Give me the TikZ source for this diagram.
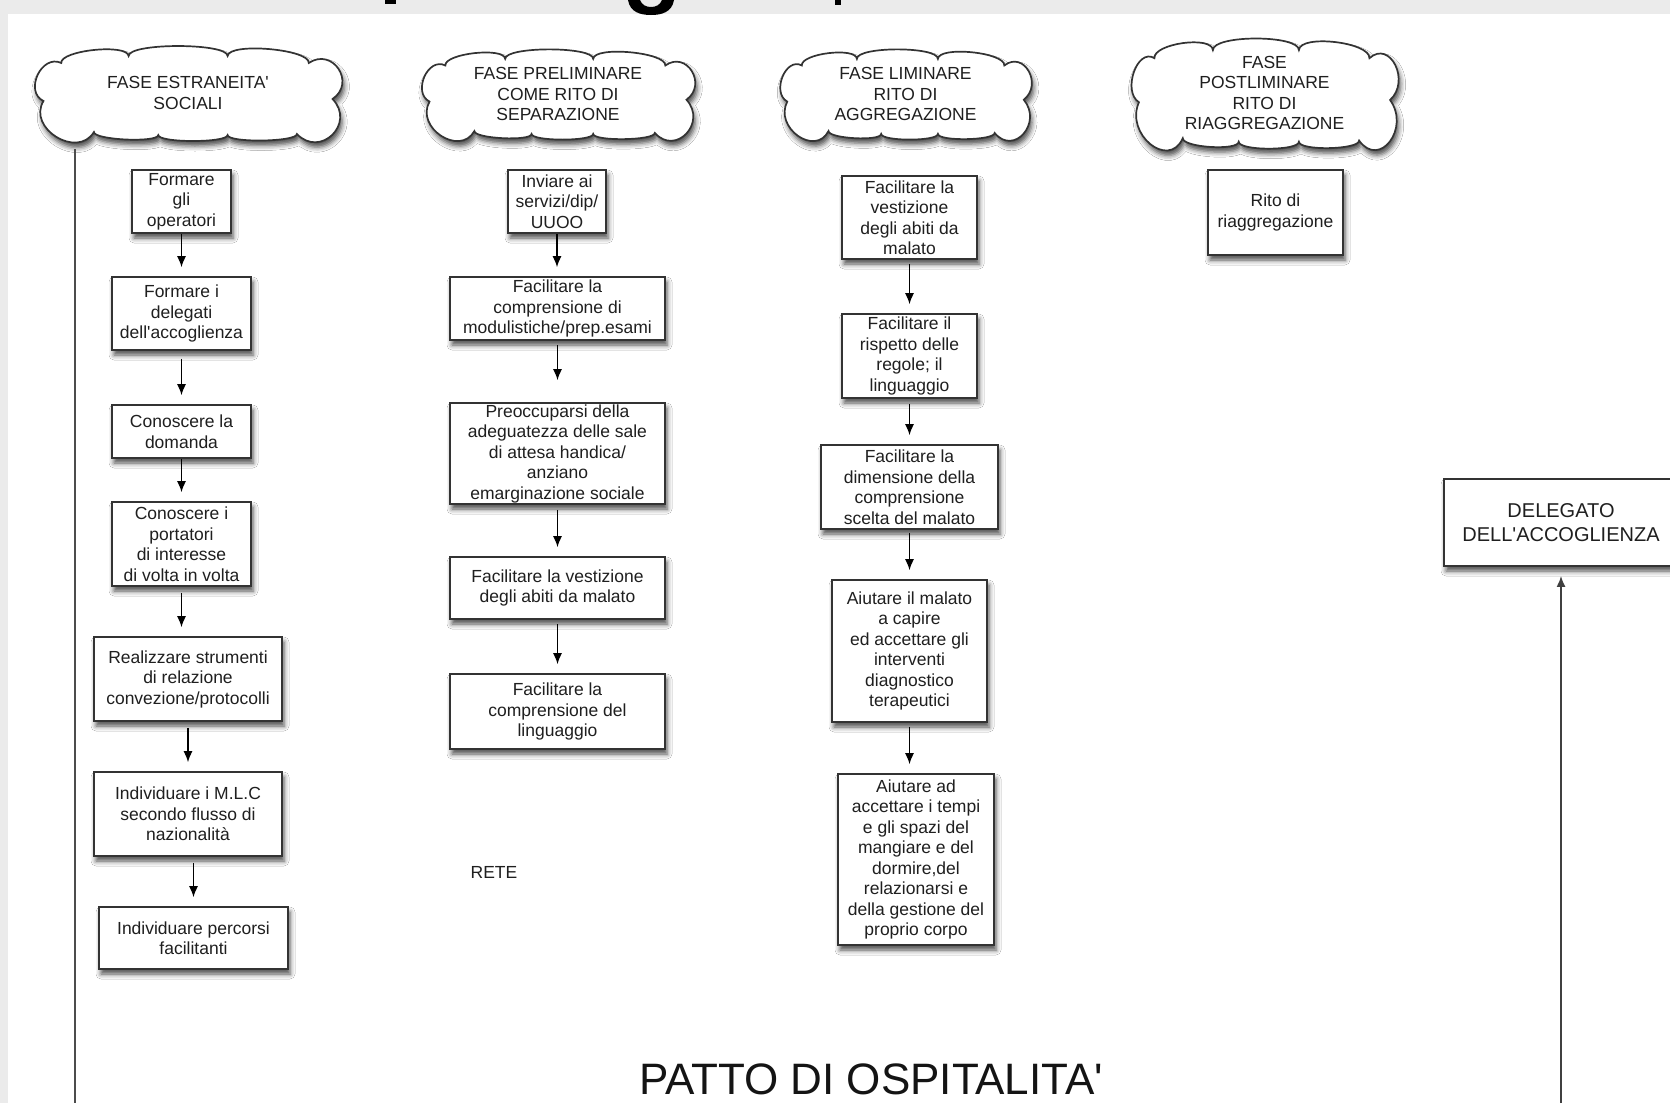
\documentclass[tikz,border=0pt]{standalone}
\usepackage{fontspec}
\newfontfamily\lsans{Liberation Sans}
\usetikzlibrary{arrows.meta,shadows.blur}

% outline of a phase cloud, 300 x 90 around the origin (y grows downwards)
\newcommand\cloudoutline{(-146,8)
  .. controls (-165.9,-1.4) and (-147.9,-39.4) .. (-128,-30)
  .. controls (-129.3,-42.7) and (-61.3,-49.7) .. (-60,-37)
  .. controls (-60,-50.3) and (40,-50.3) .. (40,-37)
  .. controls (41.2,-50.9) and (123.2,-43.9) .. (122,-30)
  .. controls (146.1,-46.1) and (170.1,-10.1) .. (146,6)
  .. controls (169.7,30.4) and (133.7,65.4) .. (110,41)
  .. controls (110.1,49) and (40.1,50) .. (40,42)
  .. controls (40,50) and (-30,50) .. (-30,42)
  .. controls (-30.4,50) and (-95.4,47) .. (-95,39)
  .. controls (-111.6,66.3) and (-162.6,35.3) .. (-146,8) -- cycle}

\begin{document}
\begin{tikzpicture}[x=1pt,y=-1pt,
  every node/.style={font=\lsans\fontsize{17.5}{20.5}\selectfont, text=black!88, align=center},
  softshadow/.style={blur shadow={shadow xshift=2pt, shadow yshift=-5pt,
      shadow blur radius=5pt, shadow opacity=70}},
  proc/.style={draw=black!80, line width=1.7pt, fill=white, inner sep=0pt, softshadow},
  cloudline/.style={draw=black!80, line width=1.7pt, fill=white, softshadow},
  arr/.style={draw=black, line width=1.3pt, -{Latex[length=11pt,width=9pt]}, shorten >=9pt},
]
\useasboundingbox (0,0) rectangle (1670,1103);
\clip (0,0) rectangle (1670,1103);

% page background and white sheet
\fill[black!8] (0,0) rectangle (1670,1103);
\fill[white] (8,14) rectangle (1672,1105);

% remains of the heading cut off at the top edge
\fill[black] (385,0) rectangle (396,4);
\fill[black] (628,0) .. controls (630,12) and (640,15) .. (651,15)
  .. controls (662,15) and (672,12) .. (674,0) -- (662,0)
  .. controls (660,5) and (656,7) .. (651,7)
  .. controls (646,7) and (642,5) .. (640,0) -- cycle;
\fill[black] (835,0) rectangle (841,5);

% phase clouds
\coordinate (p1) at (188,93);
\coordinate (p2) at (558,94);
\coordinate (p3) at (905.5,94);
\coordinate (p4) at (1264.5,93);
\begin{scope}[shift={(p1)}, xscale=0.99]
  \path[cloudline] \cloudoutline;
\end{scope}
\begin{scope}[shift={(p2)}, xscale=0.88, yscale=0.95]
  \path[cloudline] \cloudoutline;
\end{scope}
\begin{scope}[shift={(p3)}, xscale=0.81, yscale=0.95]
  \path[cloudline] \cloudoutline;
\end{scope}
\begin{scope}[shift={(p4)}, xscale=0.86, yscale=1.16]
  \path[cloudline] \cloudoutline;
\end{scope}
\node (k1) at (p1) {FASE ESTRANEITA'\\SOCIALI};
\node (k2) at (p2) {FASE PRELIMINARE\\COME RITO DI\\SEPARAZIONE};
\node (k3) at (p3) {FASE LIMINARE\\RITO DI\\AGGREGAZIONE};
\node (k4) at (p4) {FASE\\POSTLIMINARE\\RITO DI\\RIAGGREGAZIONE};

% left guide line
\coordinate (lt) at (75,149);
\coordinate (lb) at (75,1103);
\draw[black!70, line width=2pt] (lt) -- (lb);

% column 1
\node[proc, minimum width=99pt,  minimum height=63pt] (b1) at (181.5,201.5) {Formare\\gli\\operatori};
\node[proc, minimum width=139pt, minimum height=73pt] (b2) at (181.5,313.5) {Formare i\\delegati\\dell'accoglienza};
\node[proc, minimum width=139pt, minimum height=53pt] (b3) at (181.5,431.5) {Conoscere la\\domanda};
\node[proc, minimum width=139pt, minimum height=84pt] (b4) at (181.5,544) {Conoscere i\\portatori\\di interesse\\di volta in volta};
\node[proc, minimum width=188pt, minimum height=84pt] (b5) at (188,679) {Realizzare strumenti\\di relazione\\convezione/protocolli};
\node[proc, minimum width=188pt, minimum height=84pt] (b6) at (188,814) {Individuare i M.L.C\\secondo flusso di\\nazionalità};
\node[proc, minimum width=189pt, minimum height=62pt] (b7) at (193.5,938) {Individuare percorsi\\facilitanti};

\draw[arr] (b1.south) -- (b2.north);
\draw[arr, shorten <=8pt] (b2.south) -- (b3.north);
\draw[arr] (b3.south) -- (b4.north);
\draw[arr, shorten <=6pt] (b4.south) -- (b4.south |- b5.north);
\draw[arr, shorten <=6pt] (b5.south) -- (b6.north);
\draw[arr, shorten <=6pt] (b7.north |- b6.south) -- (b7.north);

% column 2
\node[proc, minimum width=98pt,  minimum height=63pt] (c1) at (557,201.5) {Inviare ai\\servizi/dip/\\UUOO};
\node[proc, minimum width=215pt, minimum height=63pt] (c2) at (557.5,308.5) {Facilitare la\\comprensione di\\modulistiche/prep.esami};
\node[proc, minimum width=215pt, minimum height=101pt] (c3) at (557.5,453.5) {Preoccuparsi della\\adeguatezza delle sale\\di attesa handica/\\anziano\\emarginazione sociale};
\node[proc, minimum width=215pt, minimum height=62pt] (c4) at (557.5,588) {Facilitare la vestizione\\degli abiti da malato};
\node[proc, minimum width=215pt, minimum height=75pt] (c5) at (557.5,711.5) {Facilitare la\\comprensione del\\linguaggio};
\node (rete) at (494,872) {RETE};

\draw[arr] (c1.south) -- (c1.south |- c2.north);
\draw[arr, shorten <=4pt, shorten >=22pt] (c2.south) -- (c3.north);
\draw[arr, shorten <=5pt] (c3.south) -- (c4.north);
\draw[arr, shorten <=4pt] (c4.south) -- (c5.north);

% column 3
\node[proc, minimum width=135pt, minimum height=83pt] (d1) at (909.5,217.5) {Facilitare la\\vestizione\\degli abiti da\\malato};
\node[proc, minimum width=135pt, minimum height=84pt] (d2) at (909.5,356) {Facilitare il\\rispetto delle\\regole; il\\linguaggio};
\node[proc, minimum width=177pt, minimum height=84pt] (d3) at (909.5,487) {Facilitare la\\dimensione della\\comprensione\\scelta del malato};
\node[proc, minimum width=155pt, minimum height=142pt] (d4) at (909.5,651) {Aiutare il malato\\a capire\\ed accettare gli\\interventi\\diagnostico\\terapeutici};
\node[proc, minimum width=156pt, minimum height=171pt] (d5) at (916,859.5) {Aiutare ad\\accettare i tempi\\e gli spazi del\\mangiare e del\\dormire,del\\relazionarsi e\\della gestione del\\proprio corpo};

\draw[arr, shorten <=4pt] (d1.south) -- (d2.north);
\draw[arr, shorten <=5pt] (d2.south) -- (d3.north);
\draw[arr, shorten <=3pt] (d3.south) -- (d4.north);
\draw[arr, shorten <=4pt] (d4.south) -- (d4.south |- d5.north);

% column 4
\node[proc, minimum width=135pt, minimum height=85pt] (e1) at (1275.5,212.5) {Rito di\\riaggregazione};

% delegate box on the right
\node[proc, minimum width=234pt, minimum height=87pt, font=\lsans\fontsize{20}{24.5}\selectfont] (f1) at (1561,522.5) {DELEGATO\\DELL'ACCOGLIENZA};
\coordinate (rb) at (1561,1103);
\draw[arr, draw=black!75, line width=1.8pt] (rb) -- (f1.south);

% bottom heading
\node[anchor=base, font=\lsans\fontsize{44}{50}\selectfont, text=black!92] (title) at (871,1094) {PATTO DI OSPITALITA'};
\end{tikzpicture}
\end{document}
